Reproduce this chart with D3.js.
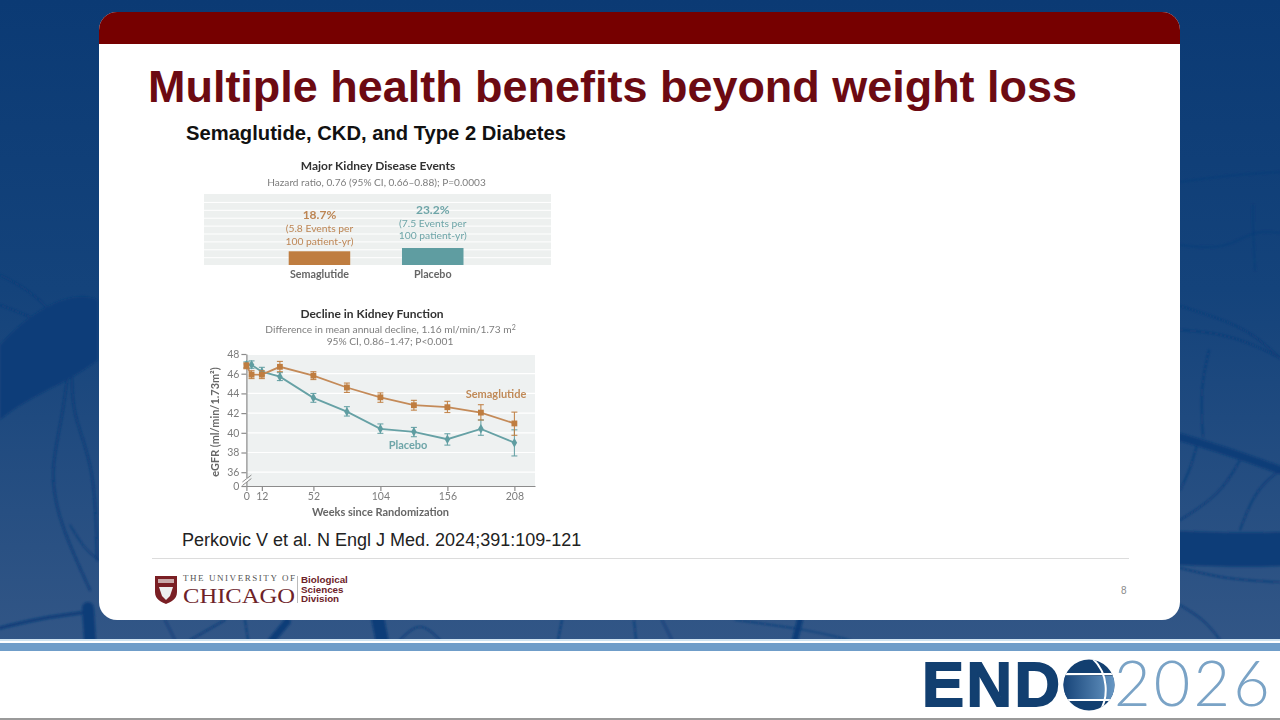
<html>
<head>
<meta charset="utf-8">
<script src="https://d3js.org/d3.v7.min.js"></script>
<style>
  html, body { margin: 0; padding: 0; background: #fff; overflow: hidden; }
  svg { display: block; }
  .fig text { font-family: Lato, "Open Sans", sans-serif; }
  .slide text { font-family: "Liberation Sans", Arial, sans-serif; }
  .tick text { font-family: Lato, "Open Sans", sans-serif; }
</style>
</head>
<body>
<svg id="chart" width="1280" height="720"></svg>
<script>
// top panel
var barCategories = ["Semaglutide", "Placebo"];
var barValues = [18.7, 23.2];
var barPercent = ["18.7%", "23.2%"];
var barLine1 = ["(5.8 Events per", "(7.5 Events per"];
var barLine2 = ["100 patient-yr)", "100 patient-yr)"];

// bottom panel
var weeks = [0, 4, 12, 26, 52, 78, 104, 130, 156, 182, 208];
var semaglutide = [46.8, 45.9, 45.9, 46.7, 45.8, 44.6, 43.6, 42.8, 42.6, 42.05, 40.95];
var semaLow = [46.5, 45.5, 45.5, 46.2, 45.4, 44.1, 43.1, 42.3, 42.05, 41.3, 39.75];
var semaHigh = [47.1, 46.3, 46.3, 47.25, 46.2, 45.05, 44.05, 43.3, 43.2, 42.85, 42.1];
var placebo = [46.9, 46.9, 46.2, 45.7, 43.55, 42.15, 40.4, 40.1, 39.35, 40.4, 39.0];
var placLow = [46.6, 46.55, 45.8, 45.3, 43.1, 41.7, 39.95, 39.6, 38.75, 39.75, 37.65];
var placHigh = [47.2, 47.3, 46.65, 46.1, 44.0, 42.65, 40.9, 40.55, 39.9, 41.3, 40.3];
var xTicks = [0, 12, 52, 104, 156, 208];
var yTicks = [0, 36, 38, 40, 42, 44, 46, 48];

var orange = "#bf7d3f", teal = "#5f9da1";
var orangeLine = "#c48a58", tealLine = "#66a1a5";
var grey = "#7d7d7d";

var svg = d3.select("#chart");
var defs = svg.append("defs");

var bgGrad = defs.append("linearGradient").attr("id", "bgGrad")
  .attr("x1", 0).attr("x2", 0).attr("y1", 0).attr("y2", 1);
bgGrad.append("stop").attr("offset", "0%").attr("stop-color", "#0b3a74");
bgGrad.append("stop").attr("offset", "45%").attr("stop-color", "#14437b");
bgGrad.append("stop").attr("offset", "100%").attr("stop-color", "#325686");

var bandGrad = defs.append("linearGradient").attr("id", "globeGrad")
  .attr("x1", 0).attr("x2", 1).attr("y1", 0).attr("y2", 0);
bandGrad.append("stop").attr("offset", "0%").attr("stop-color", "#123f74");
bandGrad.append("stop").attr("offset", "100%").attr("stop-color", "#6f9fcb");

defs.append("filter").attr("id", "soft").append("feGaussianBlur").attr("stdDeviation", 0.8);
defs.append("filter").attr("id", "softer").append("feGaussianBlur").attr("stdDeviation", 0.3);
defs.append("clipPath").attr("id", "globeClip").append("circle")
  .attr("cx", 1089).attr("cy", 685).attr("r", 25.5);

// ---------- backdrop
svg.append("rect").attr("width", 1280).attr("height", 641).attr("fill", "url(#bgGrad)");

var veins = svg.append("g").attr("fill", "none").attr("stroke", "#0d3c78")
  .attr("stroke-linecap", "round").attr("filter", "url(#soft)");
var line = d3.line().curve(d3.curveBasis);

var veinPaths = [
  { w: 2, p: [[68, 372], [62, 420], [50, 470], [58, 520], [90, 590]] },
  { w: 2, p: [[72, 372], [72, 415], [95, 466], [97, 560]] },
  { w: 3, p: [[0, 628], [40, 618], [88, 612]] },
  { w: 1.5, p: [[0, 275], [30, 290], [60, 320], [70, 355]] },
  { w: 1.5, p: [[0, 305], [40, 320], [70, 340]] },
  { w: 1.2, p: [[70, 525], [85, 550], [99, 560]] },
  { w: 1, p: [[1180, 182], [1230, 175], [1280, 172]] },
  { w: 1, p: [[1180, 245], [1225, 250], [1253, 230], [1280, 233]] },
  { w: 1, p: [[1253, 205], [1253, 230], [1255, 270]] },
  { w: 1.5, p: [[1180, 306], [1225, 320], [1255, 335], [1280, 358]] },
  { w: 1.5, p: [[1180, 330], [1220, 333], [1255, 345], [1280, 358]] },
  { w: 1.5, p: [[1209, 350], [1200, 390], [1203, 437]] },
  { w: 8, p: [[1180, 437], [1230, 452], [1280, 470]] },
  { w: 1.5, p: [[1197, 445], [1190, 470], [1180, 490]] },
  { w: 1.5, p: [[1180, 520], [1220, 495], [1240, 460]] },
  { w: 1.5, p: [[1240, 530], [1255, 490], [1280, 470]] },
  { w: 34, p: [[1180, 548], [1230, 550], [1280, 549]] },
  { w: 1.5, p: [[1180, 568], [1230, 580], [1280, 582]] },
  { w: 1.5, p: [[1180, 605], [1205, 620], [1220, 640]] },
  { w: 12, p: [[88, 608], [90, 640]] },
  { w: 7, p: [[287, 622], [272, 640]] },
  { w: 13, p: [[378, 620], [382, 640]] },
  { w: 1.5, p: [[165, 620], [175, 640]] },
  { w: 1.5, p: [[190, 640], [225, 620]] },
  { w: 1.5, p: [[245, 620], [248, 640]] },
  { w: 1.5, p: [[400, 640], [420, 620], [440, 640]] },
  { w: 1.5, p: [[558, 640], [562, 620]] },
  { w: 1.5, p: [[636, 640], [634, 620]] },
  { w: 1.5, p: [[662, 620], [672, 640]] },
  { w: 6, p: [[800, 620], [795, 640]] },
  { w: 1.2, p: [[735, 620], [810, 630], [850, 640]] }
];
veins.selectAll("path").data(veinPaths).enter().append("path")
  .attr("d", function(d) { return line(d.p); })
  .attr("stroke-width", function(d) { return d.w; });

// darker patch behind the left vessels
veins.append("path")
  .attr("d", "M0,420 C30,395 65,385 98,360 L98,300 C80,290 40,300 0,345 Z")
  .attr("fill", "#0f3e79").attr("stroke", "none");

// ---------- bottom strip
svg.append("rect").attr("y", 640).attr("width", 1280).attr("height", 80).attr("fill", "#fff");
svg.append("rect").attr("y", 639).attr("width", 1280).attr("height", 2).attr("fill", "#cfe3f0");
svg.append("rect").attr("y", 643).attr("width", 1280).attr("height", 8).attr("fill", "#6f9dc9");
svg.append("rect").attr("y", 718).attr("width", 1280).attr("height", 2).attr("fill", "#9a9a9a");

// ---------- slide panel
svg.append("rect").attr("x", 99).attr("y", 12).attr("width", 1081).attr("height", 608)
  .attr("rx", 18).attr("fill", "#fff");
svg.append("path")
  .attr("d", "M99,44 V30 A18,18 0 0 1 117,12 H1162 A18,18 0 0 1 1180,30 V44 Z")
  .attr("fill", "#760000");

var slide = svg.append("g").attr("class", "slide");
slide.append("text").attr("x", 148).attr("y", 102)
  .attr("font-size", 44).attr("font-weight", "bold").attr("fill", "#6c0a12")
  .attr("textLength", 929).attr("lengthAdjust", "spacingAndGlyphs")
  .text("Multiple health benefits beyond weight loss");
slide.append("text").attr("x", 186).attr("y", 140)
  .attr("font-size", 20.2).attr("font-weight", "bold").attr("fill", "#111")
  .text("Semaglutide, CKD, and Type 2 Diabetes");
slide.append("text").attr("x", 182).attr("y", 546)
  .attr("font-size", 18).attr("fill", "#222")
  .text("Perkovic V et al. N Engl J Med. 2024;391:109-121");
slide.append("rect").attr("x", 152).attr("y", 558).attr("width", 977).attr("height", 1).attr("fill", "#dcdcdc");
slide.append("text").attr("x", 1121).attr("y", 594).attr("font-size", 10).attr("fill", "#8a8a8a").text("8");

// ---------- top figure: bars
var figTop = svg.append("g").attr("class", "fig").attr("filter", "url(#softer)");

figTop.append("text").attr("x", 378).attr("y", 170).attr("text-anchor", "middle")
  .attr("font-size", 12).attr("font-weight", "bold").attr("fill", "#333")
  .text("Major Kidney Disease Events");
figTop.append("text").attr("x", 376.5).attr("y", 186).attr("text-anchor", "middle")
  .attr("font-size", 10.1).attr("fill", grey)
  .text("Hazard ratio, 0.76 (95% CI, 0.66\u20130.88); P=0.0003");

figTop.append("rect").attr("x", 204).attr("y", 194).attr("width", 347).attr("height", 71).attr("fill", "#edf0ef");
figTop.selectAll(".stripe").data(d3.range(1, 9)).enter().append("rect")
  .attr("class", "stripe").attr("x", 204).attr("width", 347).attr("height", 1)
  .attr("y", function(d) { return 194 + d * 7.9; }).attr("fill", "#fff");

var xBar = d3.scaleBand().domain(barCategories).range([288.7, 463.5]).paddingInner(0.457);
var yBar = d3.scaleLinear().domain([0, 23.2]).range([265, 248]);
var barColors = d3.scaleOrdinal().domain(barCategories).range([orange, teal]);
var barColorsText = d3.scaleOrdinal().domain(barCategories).range(["#bd8553", "#6ea5a8"]);

figTop.selectAll(".bar").data(barCategories).enter().append("rect")
  .attr("class", "bar")
  .attr("x", function(d) { return xBar(d); })
  .attr("width", xBar.bandwidth())
  .attr("y", function(d, i) { return yBar(barValues[i]); })
  .attr("height", function(d, i) { return yBar(0) - yBar(barValues[i]); })
  .attr("fill", function(d) { return barColors(d); });

function barText(rows, offset, size, weight) {
  figTop.selectAll(null).data(rows).enter().append("text")
    .attr("x", function(d, i) { return xBar(barCategories[i]) + xBar.bandwidth() / 2; })
    .attr("y", function(d, i) { return yBar(barValues[i]) - offset - (i == 1 ? 2.5 : 0); })
    .attr("text-anchor", "middle").attr("font-size", size).attr("font-weight", weight)
    .attr("fill", function(d, i) { return barColorsText(barCategories[i]); })
    .text(function(d) { return d; });
}
barText(barPercent, 32, 12, "bold");
barText(barLine1, 19, 10.3, "normal");
barText(barLine2, 6.5, 10.3, "normal");

figTop.selectAll(".cat").data(barCategories).enter().append("text")
  .attr("class", "cat")
  .attr("x", function(d) { return xBar(d) + xBar.bandwidth() / 2; })
  .attr("y", 277.5).attr("text-anchor", "middle")
  .attr("font-size", 10.7).attr("font-weight", "bold").attr("fill", "#666")
  .text(function(d) { return d; });

// ---------- bottom figure: eGFR lines
var figLow = svg.append("g").attr("class", "fig").attr("filter", "url(#softer)");

figLow.append("text").attr("x", 372).attr("y", 318).attr("text-anchor", "middle")
  .attr("font-size", 12).attr("font-weight", "bold").attr("fill", "#333")
  .text("Decline in Kidney Function");
var subT = figLow.append("text").attr("x", 390.5).attr("y", 333).attr("text-anchor", "middle")
  .attr("font-size", 10.2).attr("fill", grey)
  .text("Difference in mean annual decline, 1.16 ml/min/1.73 m");
subT.append("tspan").attr("dy", -3).attr("font-size", 7).text("2");
figLow.append("text").attr("x", 390).attr("y", 345).attr("text-anchor", "middle")
  .attr("font-size", 10.2).attr("fill", grey)
  .text("95% CI, 0.86\u20131.47; P<0.001");

var x = d3.scaleLinear().domain([0, 224]).range([246.4, 535]);
// the scale is broken between 0 and 36, so 0 sits on the baseline
var y = d3.scaleLinear().domain([0, 34.6, 48]).range([486, 486, 354]);

figLow.append("rect").attr("x", x(0)).attr("y", 355)
  .attr("width", x(224) - x(0)).attr("height", y(0) - 355).attr("fill", "#eef1f1");
figLow.selectAll(".grid").data(yTicks.filter(function(d) { return d > 0 && d < 48; })).enter().append("line")
  .attr("class", "grid").attr("x1", x(0)).attr("x2", x(224))
  .attr("y1", function(d) { return y(d); }).attr("y2", function(d) { return y(d); })
  .attr("stroke", "#fff").attr("stroke-width", 1.2);

var xAxis = d3.axisBottom(x).tickValues(xTicks).tickSize(5).tickSizeOuter(0);
var yAxis = d3.axisLeft(y).tickValues(yTicks).tickSize(5).tickSizeOuter(0)
  .tickFormat(d3.format("d"));

var gx = figLow.append("g").attr("transform", "translate(0," + y(0) + ")").call(xAxis);
var gy = figLow.append("g").attr("transform", "translate(" + x(0) + ",0)").call(yAxis);
[gx, gy].forEach(function(g) {
  g.selectAll(".domain, .tick line").attr("stroke", "#8c8c8c").attr("stroke-width", 1.2);
  g.selectAll(".tick text").attr("fill", grey).attr("font-size", 10.5);
});
gx.selectAll(".tick text").attr("dy", "0.55em");
gy.selectAll(".tick text").attr("dx", "1px");

// axis break
figLow.append("rect").attr("x", x(0) - 2).attr("y", 478).attr("width", 4).attr("height", 4).attr("fill", "#fff");
figLow.selectAll(".brk").data([0, 3.5]).enter().append("line")
  .attr("x1", x(0) - 4).attr("x2", x(0) + 5)
  .attr("y1", function(d) { return 482 + d; }).attr("y2", function(d) { return 475 + d; })
  .attr("stroke", "#8c8c8c").attr("stroke-width", 1);

figLow.append("text").attr("text-anchor", "middle")
  .attr("transform", "translate(219,422) rotate(-90)")
  .attr("font-size", 10.9).attr("font-weight", "bold").attr("fill", "#666")
  .text("eGFR (ml/min/1.73m\u00B2)");
figLow.append("text").attr("x", 380.5).attr("y", 516).attr("text-anchor", "middle")
  .attr("font-size", 11).attr("font-weight", "bold").attr("fill", "#666")
  .text("Weeks since Randomization");

function drawSeries(vals, lows, highs, lineColor, markColor, symbol, size) {
  var g = figLow.append("g");
  g.selectAll(".err").data(weeks).enter().append("path")
    .attr("class", "err")
    .attr("d", function(d, i) {
      var px = x(d), a = y(lows[i]), b = y(highs[i]);
      return "M" + (px - 3) + "," + a + "H" + (px + 3) + "M" + px + "," + a + "V" + b + "M" + (px - 3) + "," + b + "H" + (px + 3);
    })
    .attr("fill", "none").attr("stroke", markColor).attr("stroke-width", 1);
  g.append("path")
    .attr("d", d3.line().x(function(d) { return x(d); }).y(function(d, i) { return y(vals[i]); })(weeks))
    .attr("fill", "none").attr("stroke", lineColor).attr("stroke-width", 1.8);
  g.selectAll(".mark").data(weeks).enter().append("path")
    .attr("class", "mark")
    .attr("d", d3.symbol().type(symbol).size(size))
    .attr("transform", function(d, i) { return "translate(" + x(d) + "," + y(vals[i]) + ")"; })
    .attr("fill", markColor);
}
drawSeries(placebo, placLow, placHigh, tealLine, teal, d3.symbolDiamond, 26);
drawSeries(semaglutide, semaLow, semaHigh, orangeLine, orange, d3.symbolSquare, 34);

figLow.append("text").attr("x", 496).attr("y", 398).attr("text-anchor", "middle")
  .attr("font-size", 11).attr("font-weight", "bold").attr("fill", "#c08a58").text("Semaglutide");
figLow.append("text").attr("x", 408).attr("y", 449).attr("text-anchor", "middle")
  .attr("font-size", 11).attr("font-weight", "bold").attr("fill", "#6ea5a8").text("Placebo");

// ---------- university logo
var logo = svg.append("g");
logo.append("path").attr("d", "M155,576 H177 V592 C177,600 170,602 166,604 C162,602 155,600 155,592 Z").attr("fill", "#7a1f24");
logo.append("rect").attr("x", 158).attr("y", 579).attr("width", 16).attr("height", 4).attr("fill", "#c9a9a9");
logo.append("path").attr("d", "M159,587 L173,587 L170,596 L166,600 L162,596 Z").attr("fill", "#eee");
logo.append("text").attr("x", 183).attr("y", 581).attr("font-family", "Liberation Serif, serif")
  .attr("font-size", 9).attr("fill", "#555").attr("textLength", 112).text("THE UNIVERSITY OF");
logo.append("text").attr("x", 183).attr("y", 603).attr("font-family", "Liberation Serif, serif")
  .attr("font-size", 22).attr("fill", "#6d2228").attr("textLength", 112).attr("lengthAdjust", "spacingAndGlyphs").text("CHICAGO");
logo.append("rect").attr("x", 297).attr("y", 576).attr("width", 0.8).attr("height", 27).attr("fill", "#aaa");
["Biological", "Sciences", "Division"].forEach(function(t, i) {
  logo.append("text").attr("x", 301).attr("y", 583 + i * 9.5)
    .attr("font-family", "Liberation Sans, sans-serif").attr("font-size", 9.8).attr("font-weight", "bold")
    .attr("fill", "#6d2228").text(t);
});

// ---------- meeting logo
var endo = svg.append("g");
endo.append("text").attr("x", 922).attr("y", 706)
  .attr("font-family", "Liberation Sans, sans-serif").attr("font-size", 63).attr("font-weight", "bold")
  .attr("fill", "#123f70").attr("stroke", "#123f70").attr("stroke-width", 1.8)
  .attr("letter-spacing", 2.5).text("END");
var globe = endo.append("g").attr("clip-path", "url(#globeClip)");
globe.append("rect").attr("x", 1060).attr("y", 655).attr("width", 60).attr("height", 60).attr("fill", "#123f70");
globe.append("rect").attr("x", 1060).attr("y", 676).attr("width", 60).attr("height", 24).attr("fill", "url(#globeGrad)");
globe.append("rect").attr("x", 1060).attr("y", 673).attr("width", 60).attr("height", 2.2).attr("fill", "#fff");
globe.append("rect").attr("x", 1060).attr("y", 699).attr("width", 60).attr("height", 2).attr("fill", "#fff");
globe.append("path").attr("d", "M1092,658 C1108,672 1110,698 1098,714").attr("fill", "none").attr("stroke", "#fff").attr("stroke-width", 2);
endo.append("text").attr("x", 1114).attr("y", 706)
  .attr("font-family", "Lato, sans-serif").attr("font-size", 63).attr("font-weight", 300)
  .attr("fill", "#7aa3c6").attr("letter-spacing", 3.2).text("2026");
</script>
</body>
</html>
